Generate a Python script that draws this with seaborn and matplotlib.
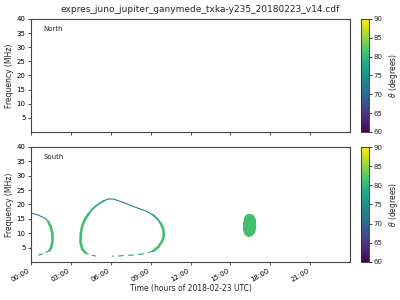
import matplotlib
matplotlib.use("Agg")
import matplotlib.pyplot as plt
import seaborn as sns
import numpy as np
import pandas as pd
from matplotlib.cm import ScalarMappable
from matplotlib.colors import Normalize

sns.set_style("ticks")
plt.rcParams['font.family'] = ['DejaVu Sans']

title = "expres_juno_jupiter_ganymede_txka-y235_20180223_v14.cdf"
hour_ticks = [0, 3, 6, 9, 12, 15, 18, 21]
hour_labels = ["00:00", "03:00", "06:00", "09:00", "12:00", "15:00", "18:00", "21:00"]
freq_ticks = [5, 10, 15, 20, 25, 30, 35, 40]
cbar_ticks = [60, 65, 70, 75, 80, 85, 90]

# South emission segments: (times in hours, frequencies MHz, theta deg, width)
seg_names = ["l_top", "l_side", "l_bot", "r_botl", "r_left", "r_upl", "r_top", "r_upr", "r_right", "r_botr"]
seg_times = [
    [0.0, 0.5, 1.05, 1.3],
    [1.3, 1.5, 1.6, 1.62, 1.55, 1.4],
    [1.4, 1.0, 0.6, 0.3],
    [4.9, 4.4, 4.1],
    [4.1, 3.85, 3.72, 3.75, 3.85, 4.05, 4.3],
    [4.3, 4.55, 4.9, 5.2, 5.5],
    [5.5, 5.8, 6.2, 6.7, 7.7, 8.7, 9.2],
    [9.2, 9.5, 9.75],
    [9.75, 9.95, 10.0, 9.9, 9.6, 9.2],
    [9.2, 8.6, 7.7, 6.7, 6.1],
]
seg_freqs = [
    [17.0, 16.4, 15.2, 14.0],
    [14.0, 12.0, 10.0, 7.5, 5.5, 4.0],
    [4.0, 3.0, 2.4, 2.0],
    [2.0, 2.5, 3.2],
    [3.2, 4.5, 7.0, 10.0, 12.5, 14.7, 16.5],
    [16.5, 18.1, 19.5, 20.5, 21.3],
    [21.3, 21.9, 21.9, 21.1, 19.3, 17.6, 16.3],
    [16.3, 15.0, 13.5],
    [13.5, 11.5, 9.5, 7.5, 5.3, 3.8],
    [3.8, 2.9, 2.4, 2.1, 2.0],
]
seg_theta = [74, 81, 77, 77, 81, 79, 73, 78, 81, 77]
seg_width = [0.8, 1.9, 0.8, 0.8, 1.9, 1.3, 0.8, 1.3, 1.9, 0.8]
seg_style = ["-", "-", (0, (4, 3)), (0, (4, 3)), "-", "-", "-", "-", "-", (0, (5, 4))]

blob_times = [16.45, 16.75, 16.92, 16.95, 16.88, 16.65, 16.35, 16.08, 15.95, 15.95, 16.05, 16.2]
blob_freqs = [16.8, 16.3, 14.8, 12.5, 10.3, 9.0, 8.6, 9.4, 11.0, 13.5, 15.6, 16.5]
blob_theta = 81

cmap = plt.get_cmap("viridis")
norm = Normalize(vmin=60, vmax=90)

fig = plt.figure(figsize=(4, 3), dpi=100)
ax_n = fig.add_axes([0.0775, 0.56, 0.7975, 0.377])
ax_s = fig.add_axes([0.0775, 0.127, 0.7975, 0.383])
cax_n = fig.add_axes([0.9025, 0.56, 0.02, 0.377])
cax_s = fig.add_axes([0.9025, 0.127, 0.02, 0.383])

for i, name in enumerate(seg_names):
    df = pd.DataFrame({"t": seg_times[i], "f": seg_freqs[i]})
    sns.lineplot(data=df, x="t", y="f", sort=False, ax=ax_s,
                 color=cmap(norm(seg_theta[i])), linewidth=seg_width[i],
                 linestyle=seg_style[i], estimator=None)
ax_s.fill(blob_times, blob_freqs, color=cmap(norm(blob_theta)), linewidth=0)

for ax, lab in [(ax_n, "North"), (ax_s, "South")]:
    ax.set_xlim(0, 24)
    ax.set_ylim(0, 40)
    ax.set_xticks(hour_ticks)
    ax.set_yticks(freq_ticks)
    ax.set_yticklabels([str(v) for v in freq_ticks], fontsize=5)
    ax.set_ylabel("Frequency (MHz)", fontsize=5.5, labelpad=2)
    ax.set_xlabel("")
    ax.tick_params(length=2.5, width=0.6, pad=1.5, colors="#333333", labelcolor="black")
    for sp in ax.spines.values():
        sp.set_visible(True)
        sp.set_linewidth(0.8)
        sp.set_color("#444444")
    ax.text(0.038, 0.91, lab, transform=ax.transAxes, fontsize=5, va="center")

ax_n.set_xticklabels([])
ax_s.set_xticklabels(hour_labels, fontsize=5, rotation=30, ha="right")
ax_s.set_xlabel("Time (hours of 2018-02-23 UTC)", fontsize=5.5, labelpad=1)

for cax in (cax_n, cax_s):
    sm = ScalarMappable(norm=norm, cmap=cmap)
    cb = fig.colorbar(sm, cax=cax, ticks=cbar_ticks)
    cb.ax.tick_params(labelsize=5, length=2, width=0.6, pad=1.5)
    cb.set_label(r"$\theta$ (degrees)", fontsize=5.5, labelpad=3)
    cb.outline.set_linewidth(0.6)

fig.suptitle(title, fontsize=6.5, y=0.985)
fig.savefig("out.png", dpi=100)
